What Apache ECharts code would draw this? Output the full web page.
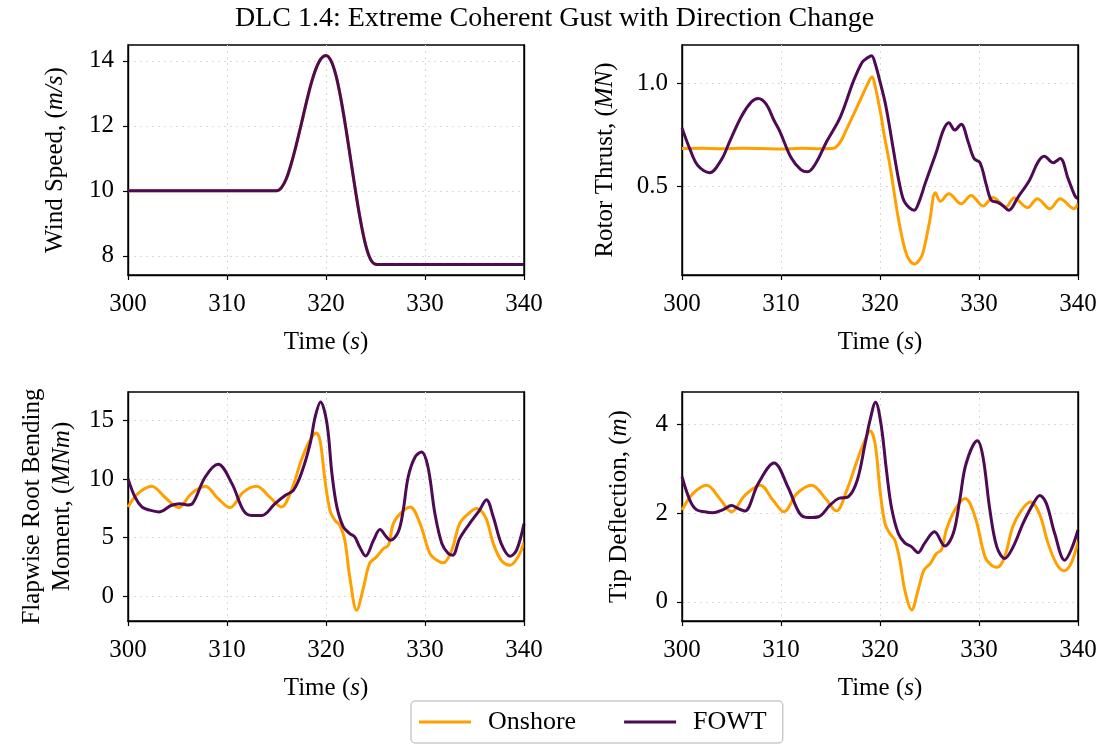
<!DOCTYPE html>
<html>
<head>
<meta charset="utf-8">
<script src="https://cdn.jsdelivr.net/npm/echarts@6/dist/echarts.min.js"></script>
<style>html,body{margin:0;padding:0;background:#fff;}#c{width:1109px;height:747px;}</style>
</head>
<body>
<div id="c"></div>
<script>
// ---------- DATA ----------
const xTicks = [300, 310, 320, 330, 340];

// Wind speed (both turbines see the same inflow)
const windT = [300, 314.5, 315, 315.5, 316, 316.5, 317, 317.5, 318, 318.5, 319, 319.5, 320, 320.5, 321, 321.5, 322, 322.5, 323, 323.5, 324, 324.5, 325, 325.5, 340];
const windOn = [10, 10, 10, 10.1, 10.38, 10.85, 11.42, 12.05, 12.7, 13.3, 13.77, 14.07, 14.17, 14.01, 13.56, 12.84, 11.94, 10.95, 9.96, 9.06, 8.34, 7.89, 7.74, 7.73, 7.73];
const windFowt = [10, 10, 10, 10.1, 10.38, 10.85, 11.42, 12.05, 12.7, 13.3, 13.77, 14.07, 14.17, 14.01, 13.56, 12.84, 11.94, 10.95, 9.96, 9.06, 8.34, 7.89, 7.74, 7.73, 7.73];
const windTicks = [8, 10, 12, 14];

// Rotor thrust (MN)
const thrustOnT = [300, 302, 304, 306, 308, 310, 312, 314, 315.3, 316.0, 316.65, 317.3, 318.0, 318.7, 319.2, 319.5, 320.1, 320.4, 321.0, 321.8, 322.5, 323.0, 323.5, 324.0, 324.35, 325.0, 325.6, 326.1, 326.95, 328.2, 329.2, 330.4, 331.4, 332.7, 333.55, 334.9, 335.9, 337.15, 338.2, 339.6, 340];
const thrustOn = [0.683, 0.685, 0.682, 0.684, 0.683, 0.681, 0.684, 0.682, 0.684, 0.716, 0.78, 0.846, 0.92, 0.993, 1.034, 0.99, 0.846, 0.755, 0.601, 0.356, 0.193, 0.135, 0.119, 0.14, 0.176, 0.324, 0.467, 0.425, 0.462, 0.413, 0.454, 0.402, 0.444, 0.397, 0.441, 0.394, 0.438, 0.389, 0.438, 0.389, 0.415];
const thrustFowtT = [300, 300.8, 301.6, 302.8, 304, 304.8, 306, 307, 307.7, 308.5, 309.3, 309.9, 311, 312, 312.7, 313.5, 314.6, 316.0, 317.3, 318.2, 318.7, 319.15, 319.5, 320.0, 320.5, 321.0, 321.5, 322.0, 322.5, 323.45, 324.0, 324.5, 325.1, 325.7, 326.4, 326.95, 327.55, 328.2, 328.9, 329.5, 330.1, 330.75, 331.25, 331.9, 332.4, 333.0, 333.95, 335.1, 335.97, 336.6, 337.5, 338.2, 339.0, 339.7, 340];
const thrustFowt = [0.784, 0.68, 0.6, 0.565, 0.63, 0.716, 0.84, 0.91, 0.928, 0.9, 0.82, 0.765, 0.64, 0.58, 0.569, 0.61, 0.716, 0.838, 1.01, 1.105, 1.125, 1.137, 1.1, 1.01, 0.912, 0.78, 0.634, 0.503, 0.42, 0.381, 0.43, 0.503, 0.585, 0.667, 0.773, 0.809, 0.773, 0.802, 0.716, 0.634, 0.614, 0.503, 0.43, 0.42, 0.405, 0.381, 0.446, 0.528, 0.618, 0.645, 0.614, 0.634, 0.536, 0.451, 0.438];
const thrustTicks = [0.5, 1.0];

// Flapwise root bending moment (MNm)
const momentOnT = [300, 301.0, 302.4, 303.7, 305.1, 306.4, 307.8, 309.1, 310.3, 311.65, 313.0, 314.3, 315.5, 316.5, 317.5, 318.3, 319.0, 319.4, 319.9, 320.4, 320.9, 321.4, 321.9, 322.4, 323.1, 323.8, 324.4, 325.1, 325.8, 326.3, 326.8, 327.5, 328.5, 329.5, 330.5, 331.2, 331.85, 332.7, 333.5, 334.4, 335.2, 336.1, 336.9, 337.7, 338.6, 339.4, 340];
const momentOn = [7.63, 8.77, 9.39, 8.48, 7.57, 8.77, 9.39, 8.34, 7.57, 8.9, 9.39, 8.48, 7.63, 9.05, 11.6, 13.2, 13.95, 13.3, 9.9, 7.34, 6.49, 6.06, 4.78, 1.65, -1.2, 0.8, 2.79, 3.36, 4.07, 4.35, 6.2, 7.06, 7.63, 6.2, 3.64, 3.07, 2.85, 3.93, 6.2, 7.06, 7.49, 6.77, 4.5, 3.07, 2.65, 3.36, 4.6];
const momentFowtT = [300, 300.7, 301.4, 302.2, 303.1, 304.4, 305.25, 306.0, 306.5, 307.8, 309.1, 310.5, 311.65, 312.5, 313.5, 314.85, 315.9, 316.7, 317.5, 318.4, 318.9, 319.45, 320.1, 320.6, 321.1, 321.75, 322.4, 322.9, 323.4, 324.0, 324.8, 325.45, 326.1, 326.5, 327.3, 327.8, 328.3, 329.0, 329.65, 330.3, 331.0, 331.7, 332.35, 332.8, 333.5, 334.5, 335.5, 336.2, 336.9, 337.7, 338.6, 339.25, 340];
const momentFowt = [10.05, 8.48, 7.63, 7.35, 7.2, 7.77, 7.91, 7.8, 7.9, 10.19, 11.27, 9.62, 7.34, 6.89, 6.89, 7.91, 8.62, 9.05, 10.47, 13.04, 15.3, 16.6, 14.74, 10.47, 7.63, 5.92, 5.35, 5.07, 4.21, 3.44, 4.78, 5.69, 5.07, 4.78, 5.49, 7.34, 10.19, 11.9, 12.32, 11.04, 7.06, 4.5, 3.64, 3.5, 4.92, 6.2, 7.34, 8.25, 6.77, 4.5, 3.41, 3.93, 6.2];
const momentTicks = [0, 5, 10, 15];

// Tip deflection (m)
const tipOnT = [300, 301.1, 302.5, 303.8, 305.0, 306.35, 307.9, 309.2, 310.3, 311.6, 313.1, 314.5, 315.6, 316.65, 317.7, 318.4, 319.0, 319.5, 320.0, 320.5, 321.0, 321.5, 322.0, 322.5, 323.2, 323.85, 324.45, 325.1, 325.7, 326.2, 326.7, 327.55, 328.6, 329.6, 330.6, 331.25, 331.86, 332.6, 333.4, 334.3, 335.2, 336.1, 336.98, 337.8, 338.56, 339.3, 340];
const tipOn = [2.07, 2.44, 2.63, 2.33, 2.03, 2.4, 2.63, 2.29, 2.03, 2.44, 2.63, 2.33, 2.05, 2.52, 3.19, 3.6, 3.85, 3.57, 2.52, 1.77, 1.54, 1.39, 0.94, 0.27, -0.18, 0.27, 0.72, 0.87, 1.09, 1.17, 1.62, 2.07, 2.33, 1.92, 1.02, 0.83, 0.78, 1.02, 1.69, 2.07, 2.25, 1.99, 1.32, 0.87, 0.7, 0.87, 1.36];
const tipFowtT = [300, 300.8, 301.45, 302.3, 303.1, 304.15, 305.0, 305.7, 306.35, 307.7, 309.3, 310.7, 311.9, 312.8, 313.8, 314.95, 315.8, 316.8, 317.7, 318.5, 319.0, 319.55, 320.1, 320.65, 321.15, 321.85, 322.5, 323.2, 323.85, 324.5, 325.5, 326.55, 327.4, 328.05, 328.7, 329.84, 330.4, 331.1, 331.8, 332.6, 333.45, 334.45, 335.5, 336.14, 336.8, 337.65, 338.66, 339.3, 340];
const tipFowt = [2.82, 2.29, 2.08, 2.03, 2.01, 2.08, 2.17, 2.1, 2.05, 2.67, 3.13, 2.59, 1.99, 1.9, 1.92, 2.18, 2.33, 2.37, 2.74, 3.57, 4.1, 4.5, 4.01, 2.97, 2.14, 1.54, 1.33, 1.24, 1.11, 1.32, 1.58, 1.26, 1.54, 2.29, 3.12, 3.63, 3.27, 2.07, 1.24, 0.98, 1.24, 1.77, 2.22, 2.4, 2.22, 1.54, 0.94, 1.17, 1.62];
const tipTicks = [0, 2, 4];

// ---------- CHART ----------
const FONT = 'Liberation Serif';
const FS = 25;
const ORANGE = '#FFA000';
const PURPLE = '#4E0A55';
const zip = (t, v) => t.map((x, i) => [x, v[i]]);
const rich = {
  n: { fontFamily: FONT, fontSize: FS, color: '#000' },
  i: { fontFamily: FONT, fontSize: FS, color: '#000', fontStyle: 'italic' }
};

const gridRects = [
  { left: 128, top: 45, width: 396, height: 230 },
  { left: 682, top: 45, width: 396, height: 230 },
  { left: 128, top: 392, width: 396, height: 229 },
  { left: 682, top: 392, width: 396, height: 229 }
];
const yCfg = [
  { min: 7.41, max: 14.49, ticks: windTicks, name: '{n|Wind Speed, (}{i|m/s}{n|)}', gap: 58, dec: 0 },
  { min: 0.065, max: 1.189, ticks: thrustTicks, name: '{n|Rotor Thrust, (}{i|MN}{n|)}', gap: 62, dec: 1 },
  { min: -2.12, max: 17.45, ticks: momentTicks, name: '{n|Flapwise Root Bending}\n{n|Moment, (}{i|MNm}{n|)}', gap: 51, dec: 0 },
  { min: -0.43, max: 4.73, ticks: tipTicks, name: '{n|Tip Deflection, (}{i|m}{n|)}', gap: 48, dec: 0 }
];

const splitStyle = { show: true, lineStyle: { color: '#d9d9d9', width: 1, type: [2, 4] } };
const frameLine = { show: true, onZero: false, lineStyle: { color: '#000', width: 1.4 } };

const option = {
  animation: false,
  backgroundColor: '#fff',
  title: {
    text: 'DLC 1.4: Extreme Coherent Gust with Direction Change',
    left: 'center', top: 0,
    textStyle: { fontFamily: FONT, fontSize: 28, fontWeight: 'normal', color: '#000' }
  },
  legend: {
    data: ['Onshore', 'FOWT'],
    left: 411, top: 701,
    padding: [8, 16, 8, 8],
    itemWidth: 52, itemHeight: 3, itemGap: 48,
    icon: 'rect',
    borderColor: '#cccccc', borderWidth: 1.5, borderRadius: 4,
    textStyle: { fontFamily: FONT, fontSize: 26, color: '#000', padding: [0, 0, 0, 12] }
  },
  grid: gridRects.map(g => Object.assign({ show: true, borderColor: '#000', borderWidth: 1.4, backgroundColor: '#fff', containLabel: false }, g)),
  xAxis: [],
  yAxis: [],
  series: []
};

// bottom x axes (labelled)
gridRects.forEach((g, i) => {
  option.xAxis.push({
    type: 'value', gridIndex: i, min: 300, max: 340, interval: 10,
    name: '{n|Time (}{i|s}{n|)}', nameLocation: 'middle', nameGap: 55,
    nameTextStyle: { rich: rich },
    axisLine: frameLine,
    axisTick: { show: true, inside: false, length: 5, lineStyle: { color: '#000', width: 1.2 } },
    axisLabel: { margin: 17, customValues: xTicks, fontFamily: FONT, fontSize: FS, color: '#000' },
    splitLine: splitStyle
  });
});
// left y axes (labelled)
yCfg.forEach((c, i) => {
  option.yAxis.push({
    type: 'value', gridIndex: i, min: c.min, max: c.max,
    name: c.name, nameLocation: 'middle', nameGap: c.gap, nameRotate: 90,
    nameTextStyle: { rich: rich, lineHeight: 30, align: 'center' },
    axisLine: frameLine,
    axisTick: { show: true, inside: false, length: 5, customValues: c.ticks, lineStyle: { color: '#000', width: 1.2 } },
    axisLabel: { margin: 14, customValues: c.ticks, fontFamily: FONT, fontSize: FS, color: '#000',
      formatter: v => Number(v).toFixed(c.dec) },
    splitLine: splitStyle
  });
});
// right-hand frame lines drawn above the dotted grid
yCfg.forEach((c, i) => {
  option.yAxis.push({
    type: 'value', gridIndex: i, min: c.min, max: c.max, position: 'right', z: 10,
    axisLine: frameLine, axisTick: { show: false }, axisLabel: { show: false }, splitLine: { show: false }
  });
});

const lineSeries = (name, color, idx, data) => ({
  name: name, type: 'line', xAxisIndex: idx, yAxisIndex: idx,
  data: data, showSymbol: false, symbol: 'none', smooth: 0.35,
  lineStyle: { color: color, width: 3 }, itemStyle: { color: color },
  clip: true
});

option.series.push(lineSeries('Onshore', ORANGE, 0, zip(windT, windOn)));
option.series.push(lineSeries('FOWT', PURPLE, 0, zip(windT, windFowt)));
option.series.push(lineSeries('Onshore', ORANGE, 1, zip(thrustOnT, thrustOn)));
option.series.push(lineSeries('FOWT', PURPLE, 1, zip(thrustFowtT, thrustFowt)));
option.series.push(lineSeries('Onshore', ORANGE, 2, zip(momentOnT, momentOn)));
option.series.push(lineSeries('FOWT', PURPLE, 2, zip(momentFowtT, momentFowt)));
option.series.push(lineSeries('Onshore', ORANGE, 3, zip(tipOnT, tipOn)));
option.series.push(lineSeries('FOWT', PURPLE, 3, zip(tipFowtT, tipFowt)));

const chart = echarts.init(document.getElementById('c'), null, { renderer: 'canvas' });
chart.setOption(option);
</script>
</body>
</html>
